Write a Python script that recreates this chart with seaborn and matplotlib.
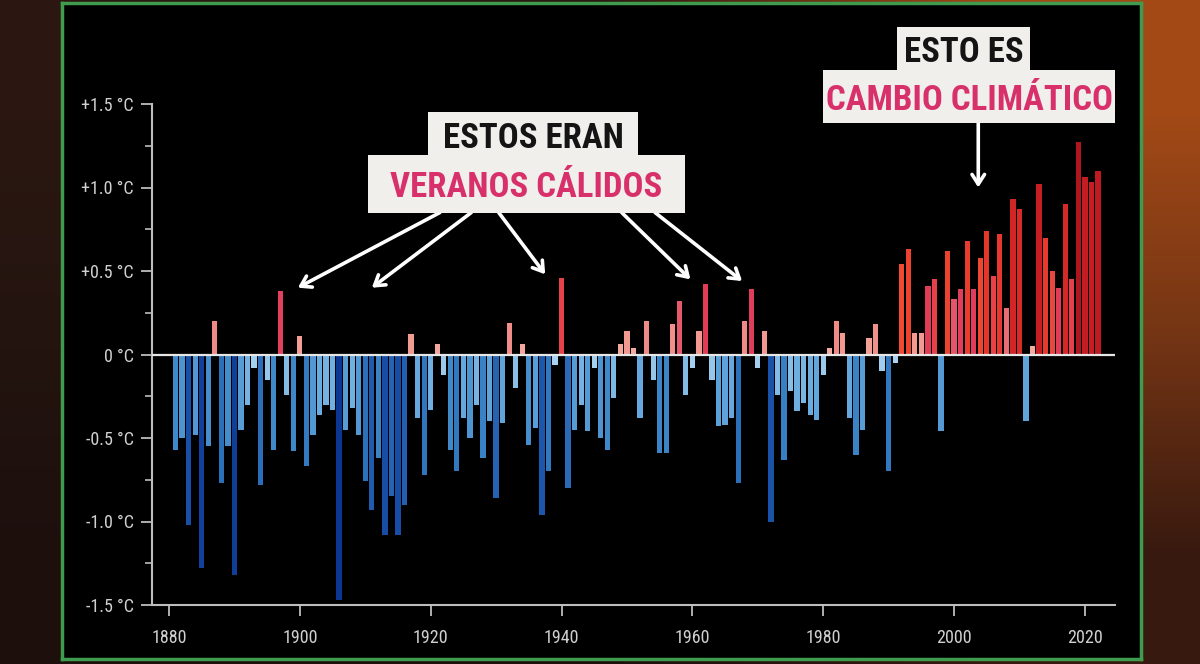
import numpy as np
import pandas as pd
import matplotlib
matplotlib.use("Agg")
import matplotlib.pyplot as plt
import seaborn as sns
from matplotlib import font_manager
from matplotlib.colors import LinearSegmentedColormap, TwoSlopeNorm
from matplotlib.patches import Rectangle
from matplotlib.ticker import MultipleLocator

# summer temperature anomaly per year
years = list(range(1881, 2023))
anomaly = [
    -0.57, -0.50, -1.02, -0.48, -1.28, -0.55, 0.20, -0.77, -0.55, -1.32,   # 1881-1890
    -0.45, -0.30, -0.08, -0.78, -0.15, -0.57, 0.38, -0.24, -0.58, 0.11,    # 1891-1900
    -0.67, -0.48, -0.36, -0.30, -0.33, -1.47, -0.45, -0.32, -0.48, -0.76,  # 1901-1910
    -0.93, -0.62, -1.08, -0.85, -1.08, -0.90, 0.12, -0.38, -0.72, -0.33,   # 1911-1920
    0.06, -0.12, -0.57, -0.70, -0.38, -0.50, -0.30, -0.62, -0.40, -0.86,   # 1921-1930
    -0.41, 0.19, -0.20, 0.06, -0.54, -0.44, -0.96, -0.70, -0.06, 0.46,     # 1931-1940
    -0.80, -0.45, -0.30, -0.46, -0.08, -0.50, -0.57, -0.26, 0.06, 0.14,    # 1941-1950
    0.04, -0.38, 0.20, -0.15, -0.59, -0.59, 0.18, 0.32, -0.24, -0.08,      # 1951-1960
    0.14, 0.42, -0.15, -0.43, -0.42, -0.38, -0.77, 0.20, 0.39, -0.08,      # 1961-1970
    0.14, -1.00, -0.24, -0.63, -0.22, -0.34, -0.29, -0.36, -0.39, -0.12,   # 1971-1980
    0.04, 0.20, 0.13, -0.38, -0.60, -0.45, 0.10, 0.18, -0.10, -0.70,      # 1981-1990
    -0.05, 0.54, 0.63, 0.13, 0.13, 0.41, 0.45, -0.46, 0.62, 0.33,         # 1991-2000
    0.39, 0.68, 0.39, 0.58, 0.74, 0.47, 0.72, 0.28, 0.93, 0.87,           # 2001-2010
    -0.40, 0.05, 1.02, 0.70, 0.50, 0.40, 0.90, 0.45, 1.27, 1.06,          # 2011-2020
    1.03, 1.10,                                                            # 2021-2022
]

tick_years = [1880, 1900, 1920, 1940, 1960, 1980, 2000, 2020]
tick_temps = [-1.5, -1.0, -0.5, 0, 0.5, 1.0, 1.5]
tick_temp_labels = ["-1.5 °C", "-1.0 °C", "-0.5 °C", "0 °C", "+0.5 °C", "+1.0 °C", "+1.5 °C"]

df = pd.DataFrame({"year": years, "anomaly": anomaly})

# colour scale: blues below zero, salmon -> red above
stops = [(-1.5, "#0a3590"), (-1.0, "#1a52a8"), (-0.6, "#3a84c6"), (-0.35, "#6cade0"),
         (-0.001, "#b4daf3"), (0.001, "#f6b4a6"), (0.2, "#f08c88"), (0.4, "#e03a5a"),
         (0.55, "#f04a32"), (0.8, "#e2302a"), (1.05, "#c41c22"), (1.5, "#9a0e18")]
cmap = LinearSegmentedColormap.from_list("summer", [((v + 1.5) / 3, c) for v, c in stops])
norm = TwoSlopeNorm(vmin=-1.5, vcenter=0, vmax=1.5)

sns.set_style("ticks")

# pick a condensed family if one is installed
names = {f.name for f in font_manager.fontManager.ttflist}
cond = next((n for n in ["Roboto Condensed", "Open Sans Condensed", "Liberation Sans Narrow",
                         "DejaVu Sans"] if n in names), "DejaVu Sans")
plt.rcParams["font.family"] = [cond, "DejaVu Sans"]
plt.rcParams["font.stretch"] = "condensed"

W, H = 1200, 664
fig = plt.figure(figsize=(12, 6.64), dpi=100)

# photo-like backdrop behind the framed chart
bg = fig.add_axes([0, 0, 1, 1])
backdrop = np.array([
    [[0.17, 0.09, 0.07], [0.17, 0.09, 0.07], [0.64, 0.29, 0.09]],
    [[0.14, 0.08, 0.06], [0.14, 0.08, 0.06], [0.46, 0.21, 0.08]],
    [[0.11, 0.06, 0.05], [0.11, 0.06, 0.05], [0.22, 0.10, 0.06]],
])
bg.imshow(backdrop, aspect="auto", interpolation="bilinear", extent=[0, 1, 0, 1])
bg.axis("off")

# black panel with green frame
panel = fig.add_axes([62 / W, 5 / H, (1141 - 62) / W, (661 - 5) / H])
panel.set_facecolor("black")
panel.set_xticks([])
panel.set_yticks([])
for s in panel.spines.values():
    s.set_color("#3f9b4e")
    s.set_linewidth(2.5)

# main chart
ax = fig.add_axes([152 / W, (H - 605) / H, (1115 - 152) / W, (605 - 104) / H])
ax.set_facecolor("none")

sns.barplot(
    data=df,
    x="year",
    y="anomaly",
    hue="anomaly",
    palette=cmap,
    hue_norm=norm,
    native_scale=True,
    dodge=False,
    errorbar=None,
    width=0.8,
    saturation=1,
    linewidth=0,
    legend=False,
    ax=ax,
)

ax.axhline(0, color="#e6e6e6", lw=1.6, zorder=3)

ax.set_xlim(1877.4, 2024.6)
ax.set_ylim(-1.5, 1.5)
ax.set_xticks(tick_years)
ax.set_xticklabels([str(y) for y in tick_years])
ax.set_yticks(tick_temps)
ax.set_yticklabels(tick_temp_labels)
ax.yaxis.set_minor_locator(MultipleLocator(0.25))
ax.set_xlabel("")
ax.set_ylabel("")

sns.despine(ax=ax)
for side in ["left", "bottom"]:
    ax.spines[side].set_color("#bdbdbd")
    ax.spines[side].set_linewidth(1.5)

ax.tick_params(axis="both", which="major", length=8, width=1.3, color="#bdbdbd",
               labelcolor="#d0d0d0", labelsize=13)
ax.tick_params(axis="y", which="minor", length=5, width=1.2, color="#bdbdbd")
ax.tick_params(axis="y", pad=5)
ax.tick_params(axis="x", pad=9)

# callout boxes
pink = "#d8306b"
box = "#f1efec"


def callout(x0, x1, y0, y1, text, color):
    fig.patches.append(Rectangle((x0 / W, 1 - y1 / H), (x1 - x0) / W, (y1 - y0) / H,
                                 transform=fig.transFigure, fc=box, ec="none", zorder=5))
    fig.text((x0 + x1) / 2 / W, 1 - (y0 + y1) / 2 / H, text, color=color,
             fontsize=25, fontweight="bold", ha="center", va="center_baseline", zorder=6)


callout(428, 638, 112, 157, "ESTOS ERAN", "#141414")
callout(368, 685, 155, 213, "VERANOS CÁLIDOS", pink)
callout(897, 1030, 27, 72, "ESTO ES", "#141414")
callout(823, 1115, 70, 123, "CAMBIO CLIMÁTICO", pink)

# arrows pointing at the warm years (tail, head) in data units
arrows = [
    ((1921.4, 0.85), (1899.7, 0.40)),
    ((1926.2, 0.85), (1911.0, 0.40)),
    ((1930.4, 0.85), (1937.5, 0.48)),
    ((1949.2, 0.85), (1959.7, 0.45)),
    ((1954.3, 0.85), (1967.6, 0.44)),
    ((2003.7, 1.39), (2003.7, 1.00)),
]
for tail, head in arrows:
    ax.annotate("", xy=head, xytext=tail, annotation_clip=False,
                arrowprops=dict(arrowstyle="->,head_length=0.7,head_width=0.45",
                                lw=2.6, color="white", shrinkA=0, shrinkB=0))

fig.savefig("out.png", dpi=100, facecolor=fig.get_facecolor())
